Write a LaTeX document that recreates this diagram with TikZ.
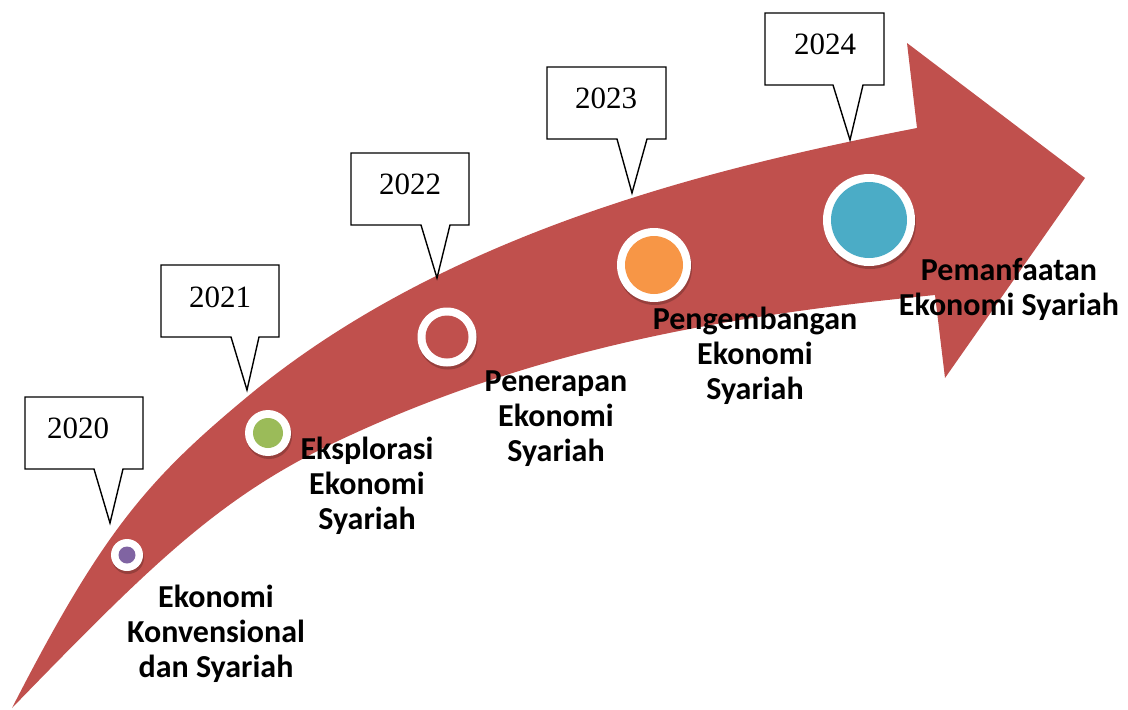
\documentclass[tikz,border=0pt]{standalone}
\usepackage{fontspec}
\setmainfont{Liberation Serif}
\newfontfamily\labfont{Carlito}
\usetikzlibrary{shadows}
\definecolor{arrowred}{HTML}{C0504D}
\definecolor{cpurple}{HTML}{8064A2}
\definecolor{cgreen}{HTML}{9BBB59}
\definecolor{corange}{HTML}{F79646}
\definecolor{cblue}{HTML}{4BACC6}
\begin{document}
\begin{tikzpicture}[x=1pt,y=-1pt,
  yearbox/.style={draw=black, line width=1.4pt, fill=white, line join=miter},
  yeartext/.style={font=\fontsize{31}{35}\selectfont, anchor=base, inner sep=0pt},
  stagetext/.style={font=\labfont\bfseries\fontsize{32}{35}\selectfont, align=center, inner sep=0pt},
  ring/.style={circle, fill=white, inner sep=0pt, draw=none,
    drop shadow={shadow xshift=1pt, shadow yshift=-3pt, opacity=0.3, fill=black!70!arrowred}},
  dot/.style={circle, inner sep=0pt, draw=none}]
\useasboundingbox (0,0) rectangle (1128,710);
% arrow body
\fill[arrowred] (12,708) .. controls (102,532.5) and (147,480) .. (247,397)
  .. controls (447,231) and (717,166.8) .. (917,128)
  -- (907,43) -- (1085,178) -- (945,378) -- (935,295)
  .. controls (735,315) and (540,346) .. (340,440)
  .. controls (220,496.4) and (152,563.8) .. (12,708) -- cycle;
% circles
\node[ring, minimum size=32pt] (c1) at (127,555) {};
\node[dot, fill=cpurple, minimum size=17pt] (d1) at (c1) {};
\node[ring, minimum size=46pt] (c2) at (268,433) {};
\node[dot, fill=cgreen, minimum size=30pt] (d2) at (c2) {};
\node[ring, minimum size=59pt] (c3) at (447,337) {};
\node[dot, fill=arrowred, minimum size=43pt] (d3) at (c3) {};
\node[ring, minimum size=74pt] (c4) at (654,265) {};
\node[dot, fill=corange, minimum size=58pt] (d4) at (c4) {};
\node[ring, minimum size=92pt] (c5) at (869,220) {};
\node[dot, fill=cblue, minimum size=76pt] (d5) at (c5) {};
% callouts
\draw[yearbox] (25,397) -- (143,397) -- (143,469) -- (123,469) -- (110,523) -- (94,469) -- (25,469) -- cycle;
\node[yeartext] (y2020) at (78,438) {2020};
\draw[yearbox] (161,265) -- (279,265) -- (279,337) -- (259,337) -- (247,390) -- (231,337) -- (161,337) -- cycle;
\node[yeartext] (y2021) at (220,307) {2021};
\draw[yearbox] (351,153) -- (469,153) -- (469,225) -- (450,225) -- (437,278) -- (421,225) -- (351,225) -- cycle;
\node[yeartext] (y2022) at (410,194) {2022};
\draw[yearbox] (547,67) -- (666,67) -- (666,139) -- (647,139) -- (632,193) -- (617,139) -- (547,139) -- cycle;
\node[yeartext] (y2023) at (606,108) {2023};
\draw[yearbox] (765,13) -- (884,13) -- (884,85) -- (863,85) -- (850,140) -- (833,85) -- (765,85) -- cycle;
\node[yeartext] (y2024) at (825,54) {2024};
% stage labels
\node[stagetext] (s1) at (216,634) {Ekonomi\\Konvensional\\dan Syariah};
\node[stagetext] (s2) at (367,486) {Eksplorasi\\Ekonomi\\Syariah};
\node[stagetext] (s3) at (556,419) {Penerapan\\Ekonomi\\Syariah};
\node[stagetext] (s4) at (755,356) {Pengembangan\\Ekonomi\\Syariah};
\node[stagetext] (s5) at (1009,289) {Pemanfaatan\\Ekonomi Syariah};
\end{tikzpicture}
\end{document}
